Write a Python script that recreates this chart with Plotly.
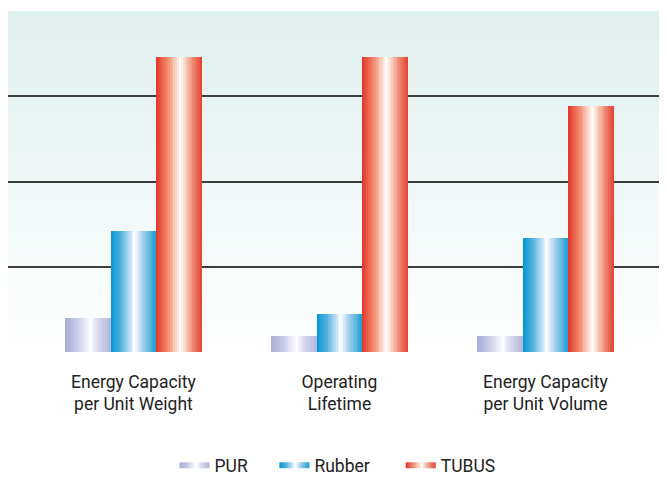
import base64, struct, zlib
import plotly.graph_objects as go

categories = ["Energy Capacity<br>per Unit Weight", "Operating<br>Lifetime", "Energy Capacity<br>per Unit Volume"]
series_names = ["PUR", "Rubber", "TUBUS"]
pur = [0.40, 0.19, 0.19]
rubber = [1.42, 0.45, 1.34]
tubus = [3.46, 3.46, 2.88]
series_values = [pur, rubber, tubus]

# horizontal "cylinder" gradients per series (position across bar -> colour)
gradients = [
    [(0.0, "#a8add6"), (0.28, "#c9cce7"), (0.48, "#f0f0f9"), (0.56, "#ffffff"), (0.72, "#dadbee"), (1.0, "#b1b4da")],
    [(0.0, "#0098d4"), (0.22, "#4fb0df"), (0.44, "#cbe6f5"), (0.53, "#ffffff"), (0.7, "#a5d0ed"), (1.0, "#179dd6")],
    [(0.0, "#e2342a"), (0.22, "#ef8266"), (0.44, "#fcd6c7"), (0.53, "#ffffff"), (0.7, "#f5b29c"), (1.0, "#e3402f")],
]
legend_pad = [5, 6, 0]  # trailing non-breaking spaces to widen legend entries

def hex2rgb(h):
    h = h.lstrip("#")
    return tuple(int(h[i:i + 2], 16) for i in (0, 2, 4))

def interp(stops, t):
    for (t0, c0), (t1, c1) in zip(stops[:-1], stops[1:]):
        if t0 <= t <= t1:
            a, b = hex2rgb(c0), hex2rgb(c1)
            f = 0 if t1 == t0 else (t - t0) / (t1 - t0)
            return "rgb(%d,%d,%d)" % tuple(round(a[k] + (b[k] - a[k]) * f) for k in range(3))
    return stops[-1][1]

# background gradient image (plot area), generated as a tiny PNG
def gradient_png(top, bottom, h=256):
    t, b = hex2rgb(top), hex2rgb(bottom)
    raw = b""
    for i in range(h):
        f = i / (h - 1)
        px = bytes(round(t[k] + (b[k] - t[k]) * f) for k in range(3))
        raw += b"\x00" + px
    def chunk(tag, data):
        c = struct.pack(">I", len(data)) + tag + data
        return c + struct.pack(">I", zlib.crc32(tag + data) & 0xFFFFFFFF)
    png = b"\x89PNG\r\n\x1a\n"
    png += chunk(b"IHDR", struct.pack(">IIBBBBB", 1, h, 8, 2, 0, 0, 0))
    png += chunk(b"IDAT", zlib.compress(raw))
    png += chunk(b"IEND", b"")
    return "data:image/png;base64," + base64.b64encode(png).decode()

FONT = "Roboto"
FS = 17.5
N = 24
bar_w = 0.2217
group_w = bar_w * 3

fig = go.Figure()
for s, (name, vals, grad) in enumerate(zip(series_names, series_values, gradients)):
    for i in range(N):
        t = (i + 0.5) / N
        fig.add_trace(go.Bar(
            x=categories, y=vals,
            width=bar_w / N * 1.08,
            offset=-group_w / 2 + s * bar_w + i * bar_w / N,
            marker=dict(color=interp(grad, t), line=dict(width=0)),
            showlegend=False, hoverinfo="skip",
        ))

for name, grad, pad in zip(series_names, gradients, legend_pad):
    fig.add_trace(go.Scatter(
        x=[None], y=[None], mode="none", fill="toself", name=name + "\u00a0" * pad,
        fillgradient=dict(type="horizontal", colorscale=[[t, c] for t, c in grad]),
        fillcolor=grad[0][1],
    ))

fig.update_layout(
    width=667, height=479,
    margin=dict(l=0, r=0, t=3, b=135),
    paper_bgcolor="white", plot_bgcolor="rgba(0,0,0,0)",
    barmode="overlay", bargap=0,
    font=dict(family=FONT, size=FS, color="#222222"),
    images=[dict(source=gradient_png("#dfefee", "#ffffff"), xref="paper", yref="paper",
                 x=0, y=1, sizex=1, sizey=1, sizing="stretch", layer="below")],
    legend=dict(orientation="h", x=0.494, xanchor="center", yref="container", y=0.045,
                yanchor="middle",
                font=dict(family=FONT, size=FS, color="#222222"), bgcolor="rgba(0,0,0,0)"),
    xaxis=dict(type="category", range=[-0.609, 2.629], showgrid=False, zeroline=False,
               showline=False, ticks="", ticklabelstandoff=17, automargin=False,
               tickfont=dict(family=FONT, size=FS, color="#222222")),
    yaxis=dict(range=[0, 4], tickvals=[1, 2, 3], showticklabels=False, showgrid=True,
               gridcolor="#3c3c3c", gridwidth=2, zeroline=False, showline=False,
               automargin=False),
)

fig.write_html("out.html")
